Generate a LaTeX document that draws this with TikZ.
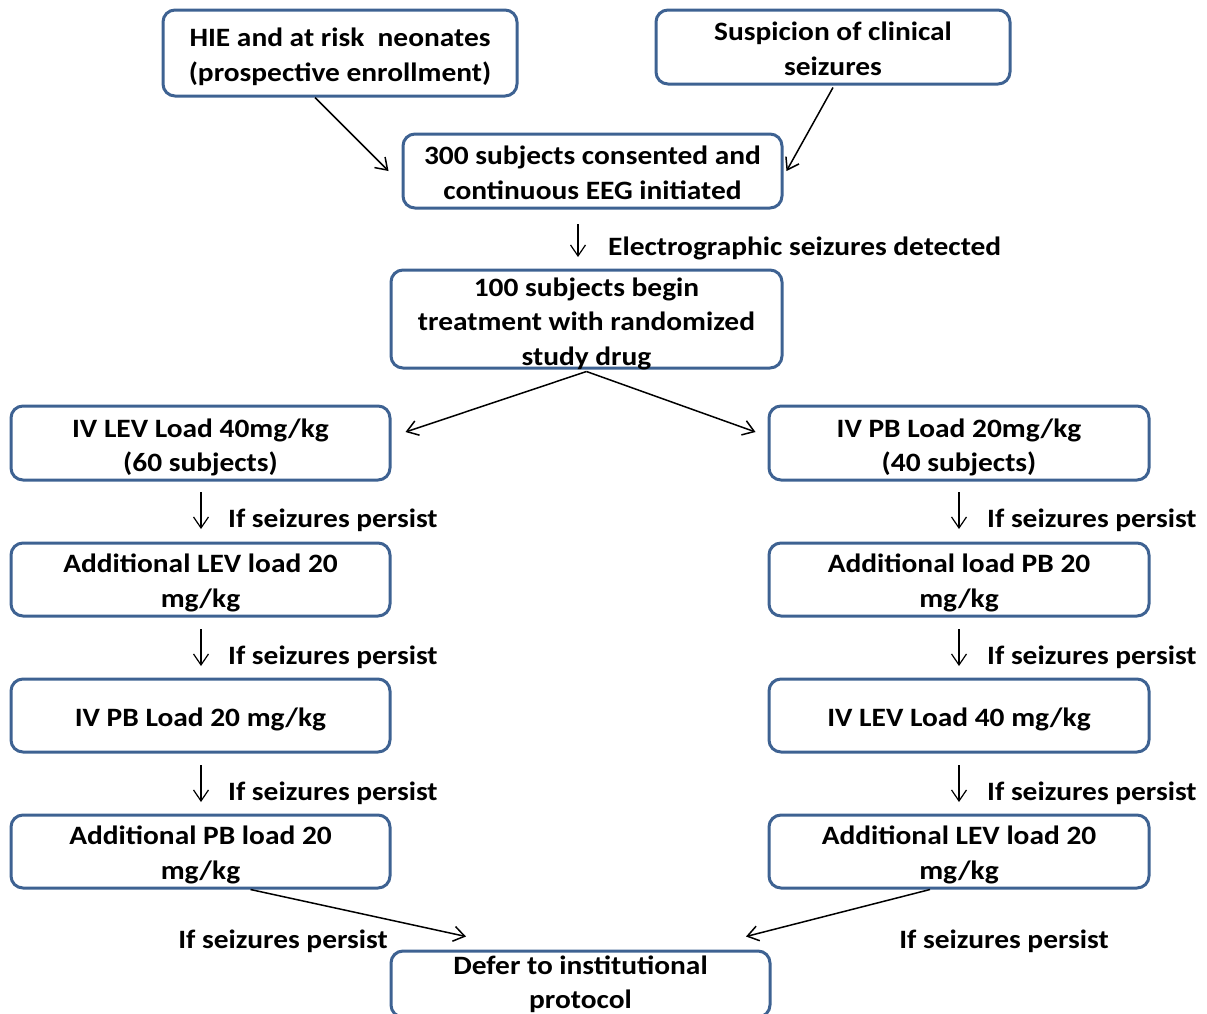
\documentclass[tikz,border=0pt]{standalone}
\usepackage{fontspec}
\setmainfont{Carlito}[FakeStretch=1.11]
\usetikzlibrary{arrows.meta}
\definecolor{boxblue}{RGB}{62,98,146}
\begin{document}
\begin{tikzpicture}[x=1pt,y=-1pt,
  box/.style={draw=boxblue,line width=3pt,rounded corners=12pt,inner sep=0pt},
  bt/.style={inner sep=0pt,align=center,font=\fontsize{26.5}{34.5}\selectfont\bfseries,text=black},
  lbl/.style={inner sep=0pt,font=\fontsize{26.5}{34}\selectfont\bfseries},
  arr/.style={-{Straight Barb[length=11pt,width=15pt]},line width=1.5pt,black}]
\useasboundingbox (0,0) rectangle (1207,1013);
% boxes
\node[box,minimum width=354pt,minimum height=86pt,label={[bt,yshift=-4pt]center:{HIE and at risk~~neonates\\(prospective enrollment)}}] (hie) at (340,53) {};
\node[box,minimum width=354pt,minimum height=74pt,label={[bt,yshift=-2pt]center:{Suspicion of clinical\\seizures}}] (susp) at (833,47) {};
\node[box,minimum width=379pt,minimum height=74pt,label={[bt,yshift=-2pt]center:{300 subjects consented and\\continuous EEG initiated}}] (cons) at (592.5,171) {};
\node[box,minimum width=391pt,minimum height=98pt,label={[bt,yshift=-4.5pt]center:{100 subjects begin\\treatment with randomized\\study drug}}] (rand) at (586.5,319) {};
\node[box,minimum width=379pt,minimum height=74pt,label={[bt,yshift=-4.5pt]center:{IV LEV Load 40mg/kg\\(60 subjects)}}] (lev1) at (200.5,443) {};
\node[box,minimum width=380pt,minimum height=74pt,label={[bt,yshift=-4.5pt]center:{IV PB Load 20mg/kg\\(40 subjects)}}] (pb1) at (959,443) {};
\node[box,minimum width=379pt,minimum height=73pt,label={[bt,yshift=-3.5pt]center:{Additional LEV load 20\\mg/kg}}] (lev2) at (200.5,579.5) {};
\node[box,minimum width=380pt,minimum height=73pt,label={[bt,yshift=-3.5pt]center:{Additional load PB 20\\mg/kg}}] (pb2) at (959,579.5) {};
\node[box,minimum width=379pt,minimum height=73pt,label={[bt,yshift=-4pt]center:{IV PB Load 20 mg/kg}}] (lev3) at (200.5,715.5) {};
\node[box,minimum width=380pt,minimum height=73pt,label={[bt,yshift=-4pt]center:{IV LEV Load 40 mg/kg}}] (pb3) at (959,715.5) {};
\node[box,minimum width=379pt,minimum height=73pt,label={[bt,yshift=-3.5pt]center:{Additional PB load 20\\mg/kg}}] (lev4) at (200.5,851.5) {};
\node[box,minimum width=380pt,minimum height=73pt,label={[bt,yshift=-3.5pt]center:{Additional LEV load 20\\mg/kg}}] (pb4) at (959,851.5) {};
\node[box,minimum width=379pt,minimum height=66pt,label={[bt]center:{Defer to institutional\\protocol}}] (defer) at (580.5,984) {};
% labels
\node[lbl,anchor=west] (l0) at (608,248) {Electrographic seizures detected};
\node[lbl,anchor=west] (la1) at (228,520) {If seizures persist};
\node[lbl,anchor=west] (la2) at (228,657) {If seizures persist};
\node[lbl,anchor=west] (la3) at (228,793) {If seizures persist};
\node[lbl,anchor=west] (lb1) at (987,520) {If seizures persist};
\node[lbl,anchor=west] (lb2) at (987,657) {If seizures persist};
\node[lbl,anchor=west] (lb3) at (987,793) {If seizures persist};
\node[lbl] (lc1) at (283,941) {If seizures persist};
\node[lbl] (lc2) at (1004,941) {If seizures persist};
% vertical arrow end points
\coordinate (v0a) at (578,224); \coordinate (v0b) at (578,257);
\coordinate (a1a) at (201,492); \coordinate (a1b) at (201,529);
\coordinate (a2a) at (201,629); \coordinate (a2b) at (201,666);
\coordinate (a3a) at (201,765); \coordinate (a3b) at (201,802);
\coordinate (b1a) at (959,492); \coordinate (b1b) at (959,529);
\coordinate (b2a) at (959,629); \coordinate (b2b) at (959,666);
\coordinate (b3a) at (959,765); \coordinate (b3b) at (959,802);
% connectors
\draw[arr] ([xshift=-25pt]hie.south) -- ([xshift=-13pt]cons.west);
\draw[arr] ([yshift=-2pt]susp.south) -- ([xshift=3pt]cons.east);
\draw[arr] ([yshift=-2pt]rand.south) -- ([xshift=14pt,yshift=11pt]lev1.east);
\draw[arr] ([yshift=-2pt]rand.south) -- ([xshift=-12pt,yshift=11pt]pb1.west);
\draw[arr] ([xshift=50pt]lev4.south) -- ([xshift=-114.5pt,yshift=13pt]defer.north);
\draw[arr] ([xshift=-29pt]pb4.south) -- ([xshift=165.5pt,yshift=13pt]defer.north);
\foreach \p in {v0,a1,a2,a3,b1,b2,b3}{
  \draw[arr,line width=1.2pt] (\p a) -- (\p b);
}
\end{tikzpicture}
\end{document}
